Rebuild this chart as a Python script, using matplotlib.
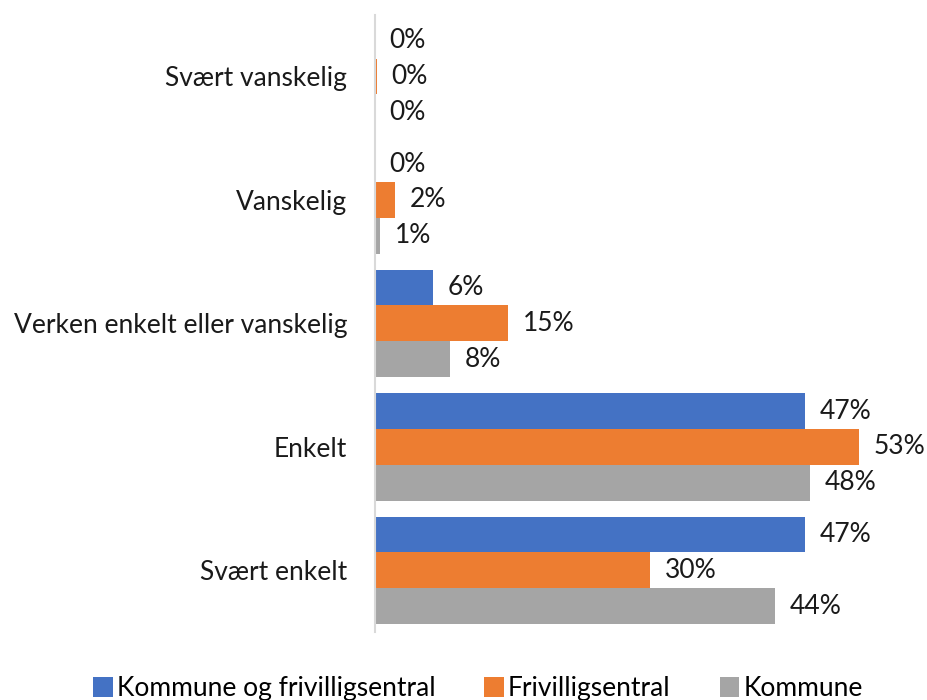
import numpy as np
import matplotlib
matplotlib.use("Agg")
import matplotlib.pyplot as plt

# -------------------------------------------------
# Data, bottom -> top
# -------------------------------------------------
categories = ["Svært enkelt", "Enkelt", "Verken enkelt eller vanskelig",
              "Vanskelig", "Svært vanskelig"]
series_names = ["Kommune og frivilligsentral", "Frivilligsentral", "Kommune"]
kommune_og_frivillig = [47.1, 47.1, 6.4, 0.0, 0.0]
frivilligsentral = [30.1, 53.0, 14.6, 2.2, 0.2]
kommune = [43.8, 47.6, 8.2, 0.6, 0.0]

colors = ["#4472C4", "#ED7D31", "#A5A5A5"]

plt.rcParams["font.family"] = ["Lato", "DejaVu Sans"]

fig = plt.figure(figsize=(9.28, 7), dpi=100)
ax = fig.add_axes([0.404, 0.097, 0.591, 0.882])

y = np.arange(len(categories))
h = 0.29
all_values = [kommune_og_frivillig, frivilligsentral, kommune]
offsets = [h, 0, -h]

for vals, off, col, name in zip(all_values, offsets, colors, series_names):
    bars = ax.barh(y + off, vals, height=h, color=col, label=name)
    for b, v in zip(bars, vals):
        ax.text(b.get_width() + 1.6, b.get_y() + b.get_height() / 2,
                f"{v:.0f}%", va="center", ha="left", fontsize=19,
                color="#1a1a1a")

ax.set_yticks(y)
ax.set_yticklabels(categories, fontsize=19, color="#1a1a1a")
ax.set_ylim(-0.5, len(categories) - 0.5)
ax.set_xlim(0, 60)
ax.set_xticks([])
ax.tick_params(axis="y", length=0, pad=20)
for s in ["top", "right", "bottom"]:
    ax.spines[s].set_visible(False)
ax.spines["left"].set_color("#D9D9D9")
ax.spines["left"].set_linewidth(1.5)

fig.legend(loc="center", bbox_to_anchor=(0.515, 0.016), ncol=3, frameon=False,
           fontsize=19, handlelength=0.75, handleheight=0.75, handletextpad=0.15,
           columnspacing=1.85)

fig.savefig("out.png", dpi=100)
